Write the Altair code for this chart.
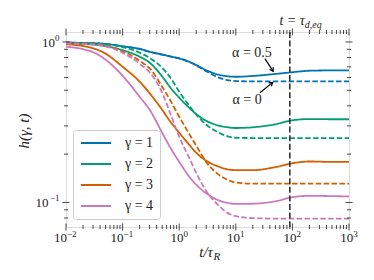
import altair as alt
import pandas as pd

# ---------------- data ----------------
t_vals = [0.01, 0.0316, 0.05, 0.1, 0.2, 0.316, 0.5, 0.7, 1, 1.5, 2, 3, 5, 7,
          10, 20, 50, 100, 200, 500, 1000]

gammas = ["γ = 1", "γ = 2", "γ = 3", "γ = 4"]
colors = ["#0173b2", "#029e73", "#d55e00", "#cc78bc"]

# alpha = 0.5 (solid lines)
h_a05 = {
    "γ = 1": [0.99, 0.982, 0.972, 0.94, 0.905, 0.865, 0.835, 0.812, 0.79, 0.752, 0.717,
              0.667, 0.625, 0.612, 0.607, 0.614, 0.632, 0.648, 0.662, 0.665, 0.665],
    "γ = 2": [0.98, 0.962, 0.942, 0.889, 0.81, 0.732, 0.61, 0.519, 0.45, 0.389, 0.355,
              0.323, 0.301, 0.2945, 0.291, 0.294, 0.307, 0.325, 0.331, 0.33, 0.33],
    "γ = 3": [0.969, 0.908, 0.846, 0.701, 0.566, 0.469, 0.378, 0.318, 0.272, 0.229, 0.204,
              0.182, 0.167, 0.161, 0.159, 0.159, 0.166, 0.1755, 0.18, 0.179, 0.179],
    "γ = 4": [0.935, 0.858, 0.776, 0.616, 0.456, 0.368, 0.272, 0.219, 0.179, 0.145, 0.129,
              0.114, 0.103, 0.0996, 0.0979, 0.0982, 0.1017, 0.1078, 0.11, 0.1095, 0.109],
}
# alpha = 0 (dashed lines)
h_a0 = {
    "γ = 1": [0.99, 0.982, 0.972, 0.94, 0.905, 0.865, 0.835, 0.812, 0.79, 0.752, 0.715,
              0.658, 0.6, 0.579, 0.571, 0.568, 0.568, 0.568, 0.568, 0.568, 0.568],
    "γ = 2": [0.99, 0.98, 0.97, 0.93, 0.858, 0.787, 0.69, 0.599, 0.49, 0.401, 0.353,
              0.305, 0.272, 0.259, 0.253, 0.252, 0.252, 0.252, 0.252, 0.252, 0.252],
    "γ = 3": [0.985, 0.97, 0.948, 0.876, 0.764, 0.672, 0.526, 0.431, 0.342, 0.268, 0.226,
              0.179, 0.149, 0.139, 0.133, 0.131, 0.131, 0.131, 0.131, 0.131, 0.131],
    "γ = 4": [0.98, 0.965, 0.94, 0.858, 0.732, 0.634, 0.483, 0.357, 0.257, 0.19, 0.153,
              0.118, 0.0955, 0.0864, 0.0822, 0.0798, 0.0793, 0.0793, 0.0793, 0.0793, 0.0793],
}

t_deq = 90

x_major = [0.01, 0.1, 1, 10, 100, 1000]
x_exps = ["−2", "−1", "0", "1", "2", "3"]
x_minor = [k * 10 ** d for d in range(-2, 3) for k in range(2, 10)]
y_major = [0.1, 1]
y_exps = ["−1", "0"]
y_minor = [0.08, 0.09, 0.2, 0.3, 0.4, 0.5, 0.6, 0.7, 0.8, 0.9]

ann_text = ["α = 0.5", "α = 0"]
ann_t = [19.3, 15.8]
ann_h = [0.858, 0.437]
arrow_t0 = [32.7, 26.7]
arrow_h0 = [0.787, 0.483]
arrow_t1 = [45.8, 44.8]
arrow_h1 = [0.656, 0.56]
arrow_angle = [148, 51]

# ---------------- build tables ----------------
rows = []
for alpha, table in (("0.5", h_a05), ("0", h_a0)):
    for g in gammas:
        for t, h in zip(t_vals, table[g]):
            rows.append({"t": t, "h": h, "gamma": g, "alpha": alpha})
df = pd.DataFrame(rows)

W, H = 283, 195
FONT = "'Liberation Serif', 'Times New Roman', 'DejaVu Serif', serif"
INK = "#222222"
X_DOM = [0.01, 1000]
Y_DOM = [0.0703, 1.154]

xscale = alt.Scale(type="log", domain=X_DOM, nice=False)
yscale = alt.Scale(type="log", domain=Y_DOM, nice=False)


def X(f):
    return alt.X(f, type="quantitative", scale=xscale, axis=None)


def Y(f):
    return alt.Y(f, type="quantitative", scale=yscale, axis=None)


lines = alt.Chart(df).mark_line(strokeWidth=1.8, interpolate="monotone").encode(
    x=X("t"),
    y=Y("h"),
    color=alt.Color("gamma:N", scale=alt.Scale(domain=gammas, range=colors),
                    legend=alt.Legend(orient="none", legendX=7, legendY=98, title=None,
                                      symbolType="M-1,0L5,0", symbolSize=100,
                                      symbolStrokeWidth=2, labelFont=FONT,
                                      labelFontSize=14, labelOffset=32, rowPadding=7,
                                      padding=6, fillColor="white", strokeColor="#cccccc",
                                      cornerRadius=3, labelColor=INK)),
    strokeDash=alt.StrokeDash("alpha:N", scale=alt.Scale(domain=["0.5", "0"],
                                                         range=[[1, 0], [5.5, 2.4]]),
                              legend=None),
    detail="alpha:N",
)

vline = alt.Chart(pd.DataFrame({"t": [t_deq]})).mark_rule(
    color="#333333", strokeWidth=1.6, strokeDash=[6, 2.6]).encode(x=X("t"))

vlabel = alt.Chart(pd.DataFrame({"t": [t_deq], "s": ["t = τ"]})).mark_text(
    font=FONT, fontSize=14, fontStyle="italic", align="right", baseline="alphabetic",
    dx=15, color=INK).encode(x=X("t"), y=alt.value(-7), text="s:N")
vsub = alt.Chart(pd.DataFrame({"t": [t_deq], "s": ["d,eq"]})).mark_text(
    font=FONT, fontSize=10, fontStyle="italic", align="left", baseline="alphabetic",
    dx=15, color=INK).encode(x=X("t"), y=alt.value(-4), text="s:N")

ann = alt.Chart(pd.DataFrame({"t": ann_t, "h": ann_h, "s": ann_text})).mark_text(
    font=FONT, fontSize=14, align="center", baseline="middle", color=INK).encode(
    x=X("t"), y=Y("h"), text="s:N")

arr_df = pd.DataFrame({"t0": arrow_t0, "h0": arrow_h0, "t1": arrow_t1, "h1": arrow_h1,
                       "ang": arrow_angle})
arrows = alt.Chart(arr_df).mark_rule(color="black", strokeWidth=1.2).encode(
    x=X("t0"), y=Y("h0"), x2="t1", y2="h1")
heads = alt.Chart(arr_df).mark_point(
    shape="M-0.55,0.9L0,0L0.55,0.9", filled=False, color="black", strokeWidth=1.2,
    size=60, opacity=1).encode(x=X("t1"), y=Y("h1"), angle=alt.Angle("ang:Q", scale=None))

# inout ticks on all four sides
xmaj = pd.DataFrame({"v": x_major})
xmin = pd.DataFrame({"v": x_minor})
ymaj = pd.DataFrame({"v": y_major})
ymin = pd.DataFrame({"v": [v for v in y_minor if Y_DOM[0] <= v <= Y_DOM[1]]})
tick_layers = []
for d, L in ((xmaj, 3.5), (xmin, 2)):
    for edge in (0, H):
        tick_layers.append(alt.Chart(d).mark_rule(color="#333333", strokeWidth=0.9).encode(
            x=X("v"), y=alt.value(edge - L), y2=alt.value(edge + L)))
for d, L in ((ymaj, 3.5), (ymin, 2)):
    for edge in (0, W):
        tick_layers.append(alt.Chart(d).mark_rule(color="#333333", strokeWidth=0.9).encode(
            y=Y("v"), x=alt.value(edge - L), x2=alt.value(edge + L)))


# tick labels "10" with a raised exponent
def exp_width(s):
    return sum(6.5 if c == "−" else 4.6 for c in s)


BASE_W = 13
label_layers = []
for v, e in zip(x_major, x_exps):
    tot = BASE_W + exp_width(e)
    d = pd.DataFrame({"v": [v], "b": ["10"], "e": [e]})
    label_layers.append(alt.Chart(d).mark_text(
        font=FONT, fontSize=13, align="left", baseline="alphabetic", dx=-tot / 2,
        color=INK).encode(x=X("v"), y=alt.value(H + 14.5), text="b:N"))
    label_layers.append(alt.Chart(d).mark_text(
        font=FONT, fontSize=9, align="left", baseline="alphabetic",
        dx=-tot / 2 + BASE_W, color=INK).encode(x=X("v"), y=alt.value(H + 9.5), text="e:N"))
for v, e in zip(y_major, y_exps):
    ew = exp_width(e)
    d = pd.DataFrame({"v": [v], "b": ["10"], "e": [e]})
    label_layers.append(alt.Chart(d).mark_text(
        font=FONT, fontSize=13, align="right", baseline="middle", dy=1,
        color=INK).encode(x=alt.value(-6.5 - ew), y=Y("v"), text="b:N"))
    label_layers.append(alt.Chart(d).mark_text(
        font=FONT, fontSize=9, align="right", baseline="middle", dy=-4,
        color=INK).encode(x=alt.value(-6.5), y=Y("v"), text="e:N"))

xt = alt.Chart(pd.DataFrame({"s": ["t/τ"]})).mark_text(
    font=FONT, fontSize=15, fontStyle="italic", align="right", baseline="alphabetic",
    color=INK).encode(x=alt.value(147), y=alt.value(225), text="s:N")
xts = alt.Chart(pd.DataFrame({"s": ["R"]})).mark_text(
    font=FONT, fontSize=11, fontStyle="italic", align="left", baseline="alphabetic",
    color=INK).encode(x=alt.value(147.5), y=alt.value(228), text="s:N")
yt = alt.Chart(pd.DataFrame({"s": ["h(γ, t)"]})).mark_text(
    font=FONT, fontSize=15, fontStyle="italic", align="center", baseline="middle",
    angle=270, color=INK).encode(x=alt.value(-42), y=alt.value(99), text="s:N")

chart = alt.layer(lines, vline, vlabel, vsub, ann, arrows, heads, *tick_layers,
                  *label_layers, xt, xts, yt).properties(
    width=W, height=H,
    autosize=alt.AutoSizeParams(type="none"),
    padding={"left": 58, "top": 24, "right": 10, "bottom": 40},
).configure_view(stroke="#333333", strokeWidth=1).configure(background="white")

chart.save("out.html", embed_options={"renderer": "svg", "actions": False})
